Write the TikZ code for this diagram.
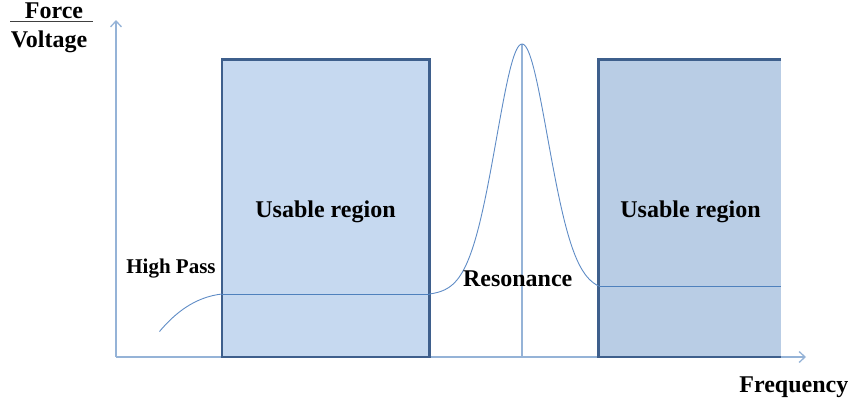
\documentclass[tikz,border=0pt]{standalone}
\usepackage{fontspec}
\setmainfont{Liberation Serif}
\usetikzlibrary{arrows.meta}
\definecolor{axisc}{RGB}{149,179,215}
\definecolor{curvec}{RGB}{95,140,198}
\definecolor{levelc}{RGB}{79,129,189}
\definecolor{boxborder}{RGB}{62,95,140}
\definecolor{fillA}{RGB}{198,217,240}
\definecolor{fillB}{RGB}{185,205,229}
\begin{document}
\begin{tikzpicture}[x=1pt,y=-1pt,
  axisline/.style={draw=axisc,line width=1.3pt,-{Straight Barb[length=6pt,width=11pt]}},
  guide/.style={draw=axisc,line width=1.3pt},
  boxline/.style={draw=boxborder,line width=2.6pt,line join=miter},
  curve/.style={draw=curvec,line width=0.9pt},
  level/.style={draw=levelc,line width=0.9pt},
  lbl/.style={font=\bfseries\fontsize{24}{28}\selectfont,anchor=base,inner sep=0pt},
  smalllbl/.style={font=\bfseries\fontsize{21}{25}\selectfont,anchor=base,inner sep=0pt},
  declare function={pk(\t)=0.85*exp(-((\t)*(\t))/1444)+0.15/(1+((\t)*(\t))/900);}
]
\useasboundingbox (0,0) rectangle (854,407);
% axes
\coordinate (O) at (116,357);
\coordinate (Ytop) at (116,20);
\coordinate (Xend) at (806,357);
\draw[axisline] (O) -- (Ytop);
\draw[axisline] (O) -- (Xend);
% boxes
\coordinate (A1) at (222,59.5);
\coordinate (A2) at (429.5,357);
\coordinate (B1) at (598.5,59.5);
\coordinate (B2) at (781,357);
\fill[fillA] (A1) rectangle (A2);
\fill[fillB] (B1) rectangle (B2);
\draw[boxline] (A1) rectangle (A2);
\draw[boxline] (B2 |- B1) -- (B1) -- (B1 |- B2) -- (B2);
% resonance guide
\coordinate (Pk) at (522,44);
\coordinate (PkB) at (522,357);
\draw[guide] (Pk) -- (PkB);
% high pass curve and levels
\coordinate (HPs) at (159.5,331.5);
\coordinate (HPe) at (222,294);
\coordinate (L1e) at (429.5,294);
\coordinate (L2s) at (598.5,286);
\coordinate (L2e) at (781,286);
\draw[curve] (HPs) .. controls (175,313) and (195,297) .. (HPe);
\draw[level] (HPe) -- (L1e);
\draw[level] (L2s) -- (L2e);
% resonance peak
\draw[curve] plot[domain=429.5:522,samples=70,smooth] (\x,{294-250*(pk(\x-522)-pk(92.5))/(1-pk(92.5))});
\draw[curve] plot[domain=522:598.5,samples=70,smooth] (\x,{286-242*(pk(\x-522)-pk(76.5))/(1-pk(76.5))});
% labels
\node[lbl] (force) at (54,18.2) {Force};
\coordinate (ULs) at (10,21.5);
\coordinate (ULe) at (93,21.5);
\draw[black!75,line width=0.8pt] (ULs) -- (ULe);
\node[lbl] (volt) at (49,47) {Voltage};
\node[lbl] (u1) at (325.5,217) {Usable region};
\node[lbl] (u2) at (690.5,217) {Usable region};
\node[smalllbl] (hp) at (171,273.5) {High Pass};
\node[lbl] (res) at (517.7,286.7) {Resonance};
\node[lbl] (freq) at (793.8,392.7) {Frequency};
\end{tikzpicture}
\end{document}
